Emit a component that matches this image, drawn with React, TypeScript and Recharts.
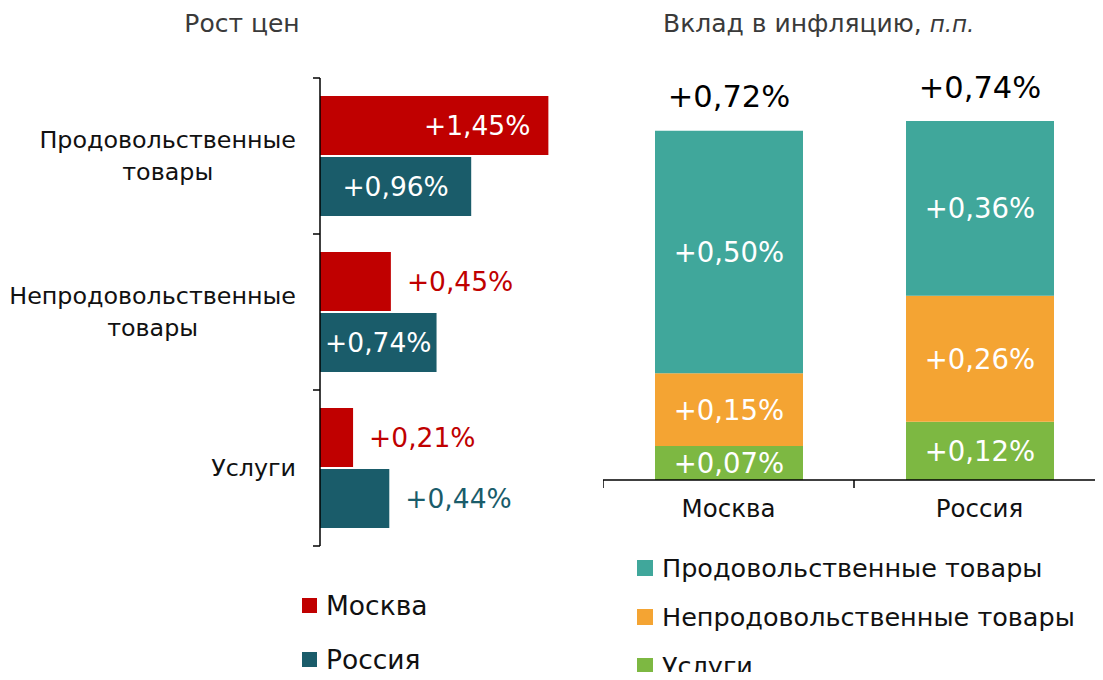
import React from "react";
import { BarChart, Bar, XAxis, YAxis, LabelList } from "recharts";

// Рост цен
const categories = ["Продовольственные товары", "Непродовольственные товары", "Услуги"];
const moscowGrowth = [1.45, 0.45, 0.21];
const russiaGrowth = [0.96, 0.74, 0.44];

// Вклад в инфляцию, п.п.
const regions = ["Москва", "Россия"];
const foodContrib = [0.5, 0.36];
const nonFoodContrib = [0.15, 0.26];
const servicesContrib = [0.07, 0.12];
const totalContrib = [0.72, 0.74];

const FONT = "'DejaVu Sans', sans-serif";
const RED = "#C00000";
const DARK_TEAL = "#1A5C6A";
const TEAL = "#40A79B";
const ORANGE = "#F4A433";
const GREEN = "#7DB842";

const fmt = (v: number) => "+" + v.toFixed(2).replace(".", ",") + "%";

const growthData = categories.map((name, i) => ({
  name,
  moscow: moscowGrowth[i],
  russia: russiaGrowth[i],
}));

const contribData = regions.map((name, i) => ({
  name,
  food: foodContrib[i],
  nonfood: nonFoodContrib[i],
  services: servicesContrib[i],
}));

let ctx: CanvasRenderingContext2D | null = null;
const textWidth = (text: string, font: string) => {
  if (!ctx) ctx = document.createElement("canvas").getContext("2d");
  if (!ctx) return text.length * 12;
  ctx.font = font;
  return ctx.measureText(text).width;
};

// left chart geometry
const L_TOP = 78;
const L_BOTTOM = 134;
const L_H = 680;
const L_AXIS_X = 320;
const L_BAND = (L_H - L_TOP - L_BOTTOM) / categories.length;

const CAT_SIZE = 23.8;

const CategoryTick = (props: any) => {
  const { y, payload, index } = props;
  const words: string[] = payload.value.split(" ");
  const lines = words.length > 1 ? [words[0], words.slice(1).join(" ")] : words;
  const right = 296;
  const w = textWidth(lines[0], `${CAT_SIZE}px ${FONT}`);
  const cx = right - w / 2;
  const lh = 32;
  const y0 = y - ((lines.length - 1) * lh) / 2;
  return (
    <g>
      <line x1={L_AXIS_X - 7} x2={L_AXIS_X} y1={y - L_BAND / 2} y2={y - L_BAND / 2} stroke="#000" strokeWidth={1.5} />
      {index === categories.length - 1 && (
        <line x1={L_AXIS_X - 7} x2={L_AXIS_X} y1={y + L_BAND / 2} y2={y + L_BAND / 2} stroke="#000" strokeWidth={1.5} />
      )}
      {lines.map((t, i) => (
        <text
          key={i}
          x={cx}
          y={y0 + i * lh}
          textAnchor="middle"
          dominantBaseline="central"
          fontSize={CAT_SIZE}
          fill="#111"
          fontFamily={FONT}
        >
          {t}
        </text>
      ))}
    </g>
  );
};

const growthLabel = (color: string, places: string[]) => (props: any) => {
  const { x, y, width, height, value, index } = props;
  const place = places[index];
  const cy = y + height / 2;
  let tx = x + width + 16;
  let anchor: "start" | "middle" | "end" = "start";
  let fill = color;
  if (place === "end") {
    tx = x + width - 18;
    anchor = "end";
    fill = "#fff";
  } else if (place === "center") {
    tx = x + width / 2;
    anchor = "middle";
    fill = "#fff";
  }
  return (
    <text x={tx} y={cy} textAnchor={anchor} dominantBaseline="central" fontSize={26.5} fill={fill} fontFamily={FONT}>
      {fmt(value)}
    </text>
  );
};

// right chart geometry
const R_LEFT = 603;
const R_WIDTH = 502;
const R_BAND = R_WIDTH / regions.length;
const R_AXIS_Y = 480;

const RegionTick = (props: any) => {
  const { x, payload, index } = props;
  return (
    <g>
      <line x1={x - R_BAND / 2} x2={x - R_BAND / 2} y1={R_AXIS_Y} y2={R_AXIS_Y + 8} stroke="#000" strokeWidth={1.5} />
      {index === regions.length - 1 && (
        <line x1={x + R_BAND / 2} x2={x + R_BAND / 2} y1={R_AXIS_Y} y2={R_AXIS_Y + 8} stroke="#000" strokeWidth={1.5} />
      )}
      <text x={x} y={R_AXIS_Y + 28} textAnchor="middle" dominantBaseline="central" fontSize={24.5} fill="#111" fontFamily={FONT}>
        {payload.value}
      </text>
    </g>
  );
};

const segLabel = (props: any) => {
  const { x, y, width, height, value } = props;
  return (
    <text x={x + width / 2} y={y + height / 2} textAnchor="middle" dominantBaseline="central" fontSize={27.5} fill="#fff" fontFamily={FONT}>
      {fmt(value)}
    </text>
  );
};

const totalLabel = (props: any) => {
  const { x, y, width, index } = props;
  return (
    <text x={x + width / 2} y={y - 34} textAnchor="middle" dominantBaseline="central" fontSize={30.5} fill="#000" fontFamily={FONT}>
      {fmt(totalContrib[index])}
    </text>
  );
};

const LegendItem = ({ color, label, size, fontSize }: { color: string; label: string; size: number; fontSize: number }) => (
  <div style={{ display: "flex", alignItems: "center", height: 30 }}>
    <div style={{ width: size, height: size, background: color, marginRight: 9 }} />
    <span style={{ fontSize, color: "#111", whiteSpace: "nowrap" }}>{label}</span>
  </div>
);

export default function App() {
  return (
    <div style={{ position: "relative", width: 1103, height: 680, margin: -8, overflow: "hidden", fontFamily: FONT, background: "#fff" }}>
      <div style={{ position: "absolute", left: 0, width: 484, top: 9, textAlign: "center", fontSize: 25, color: "#3a3a3a" }}>
        Рост цен
      </div>
      <div style={{ position: "absolute", left: 663, top: 9, fontSize: 25, color: "#3a3a3a", whiteSpace: "nowrap" }}>
        Вклад в инфляцию, <i style={{ fontSize: 23 }}>п.п.</i>
      </div>

      <div style={{ position: "absolute", left: 0, top: 0 }}>
        <BarChart
          width={600}
          height={L_H}
          layout="vertical"
          data={growthData}
          margin={{ top: L_TOP, right: 28, bottom: L_BOTTOM, left: 0 }}
          barCategoryGap={18}
          barGap={2}
        >
          <XAxis type="number" domain={[0, 1.6]} hide />
          <YAxis
            type="category"
            dataKey="name"
            width={L_AXIS_X}
            axisLine={{ stroke: "#000", strokeWidth: 1.5 }}
            tickLine={false}
            tick={<CategoryTick />}
            interval={0}
          />
          <Bar dataKey="moscow" fill={RED} isAnimationActive={false}>
            <LabelList dataKey="moscow" content={growthLabel(RED, ["end", "out", "out"])} />
          </Bar>
          <Bar dataKey="russia" fill={DARK_TEAL} isAnimationActive={false}>
            <LabelList dataKey="russia" content={growthLabel(DARK_TEAL, ["center", "center", "out"])} />
          </Bar>
        </BarChart>
      </div>

      <div style={{ position: "absolute", left: R_LEFT, top: 0 }}>
        <BarChart width={R_WIDTH} height={680} data={contribData} margin={{ top: 92, right: 0, bottom: 160, left: 0 }}>
          <XAxis
            dataKey="name"
            height={40}
            axisLine={{ stroke: "#000", strokeWidth: 1.5 }}
            tickLine={false}
            tick={<RegionTick />}
            interval={0}
          />
          <YAxis hide domain={[0, 0.8]} />
          <Bar dataKey="services" stackId="a" fill={GREEN} barSize={148} isAnimationActive={false}>
            <LabelList dataKey="services" content={segLabel} />
          </Bar>
          <Bar dataKey="nonfood" stackId="a" fill={ORANGE} barSize={148} isAnimationActive={false}>
            <LabelList dataKey="nonfood" content={segLabel} />
          </Bar>
          <Bar dataKey="food" stackId="a" fill={TEAL} barSize={148} isAnimationActive={false}>
            <LabelList dataKey="food" content={segLabel} />
            <LabelList dataKey="food" content={totalLabel} />
          </Bar>
        </BarChart>
      </div>

      <div style={{ position: "absolute", left: 302, top: 590 }}>
        <LegendItem color={RED} label="Москва" size={15} fontSize={26.5} />
        <div style={{ height: 24 }} />
        <LegendItem color={DARK_TEAL} label="Россия" size={15} fontSize={26.5} />
      </div>

      <div style={{ position: "absolute", left: 637, top: 553 }}>
        <LegendItem color={TEAL} label="Продовольственные товары" size={16} fontSize={25.5} />
        <div style={{ height: 19 }} />
        <LegendItem color={ORANGE} label="Непродовольственные товары" size={16} fontSize={25.5} />
        <div style={{ height: 19 }} />
        <LegendItem color={GREEN} label="Услуги" size={16} fontSize={25.5} />
      </div>
    </div>
  );
}
